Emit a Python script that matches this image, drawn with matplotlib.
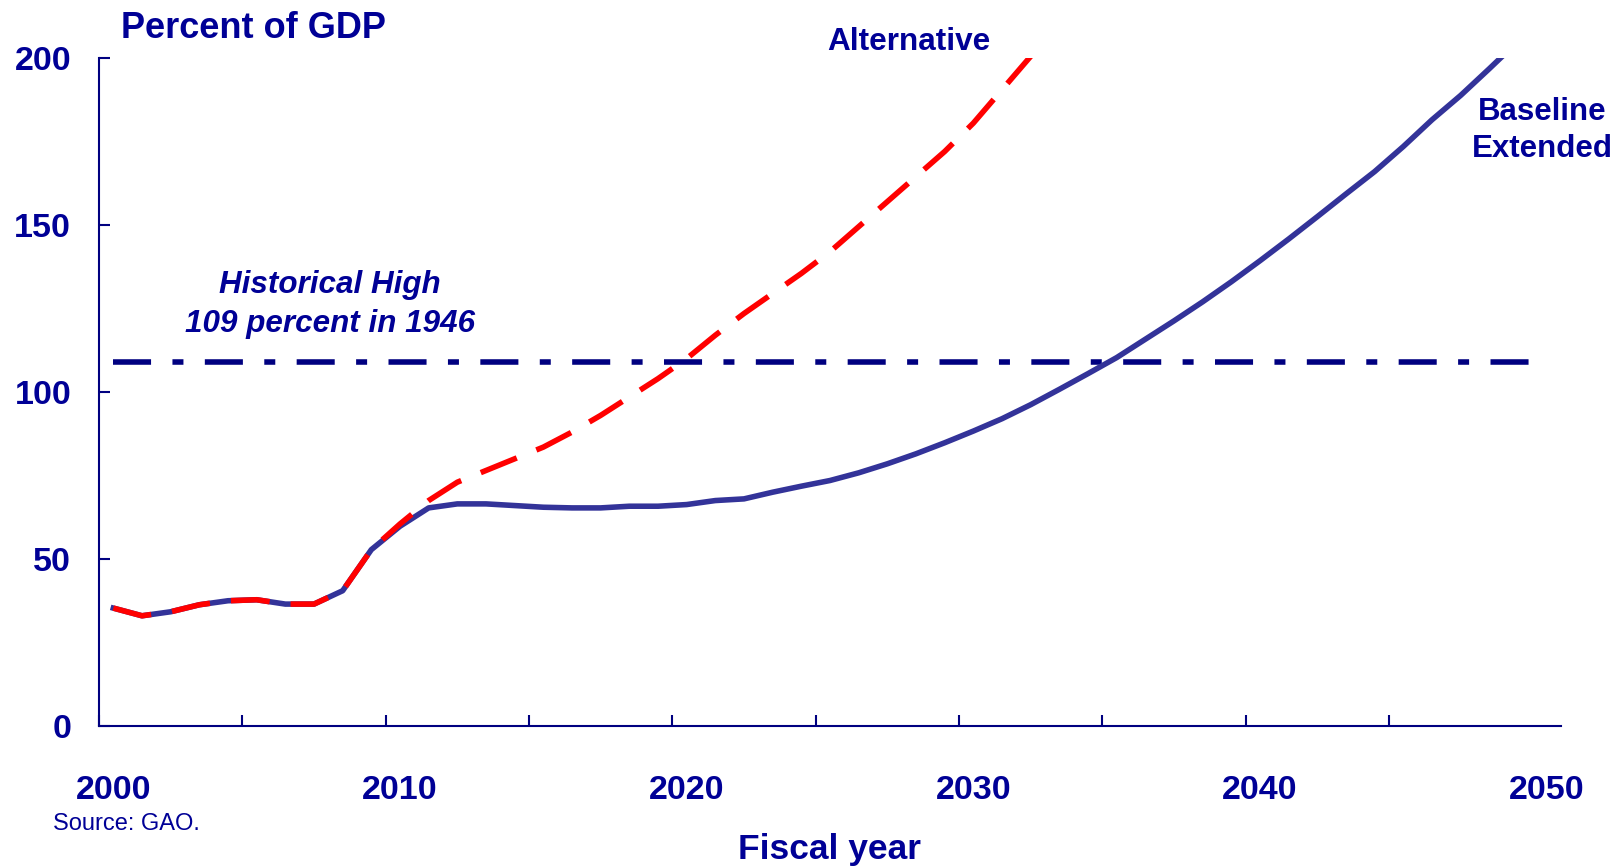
import matplotlib.pyplot as plt

plt.rcParams['font.family'] = ['Liberation Sans', 'DejaVu Sans']

# debt held by the public, percent of GDP
years = list(range(2000, 2051))
baseline = [35.3, 33.0, 34.2, 36.3, 37.5, 37.8, 36.5, 36.5, 40.5, 52.8,
            59.8, 65.3, 66.5, 66.5, 66.0, 65.5, 65.3, 65.3, 65.8, 65.8,
            66.3, 67.5, 68.0, 70.0, 71.8, 73.5, 75.8, 78.5, 81.5, 84.8,
            88.3, 92.0, 96.2, 100.8, 105.5, 110.3, 115.8, 121.3, 127.0, 133.0,
            139.3, 145.8, 152.5, 159.3, 166.0, 173.5, 181.5, 188.8, 196.8, 205.0,
            213.0]

alt_years = list(range(2000, 2034))
alternative = [35.3, 33.0, 34.2, 36.3, 37.5, 37.8, 36.5, 36.5, 40.5, 52.8,
               60.5, 67.5, 73.0, 76.5, 80.0, 83.5, 88.0, 93.0, 98.5, 104.0,
               110.0, 117.0, 123.5, 129.5, 135.5, 142.0, 149.5, 157.0, 164.5, 172.0,
               180.5, 190.5, 200.5, 211.0]

hist_high = 109
hist_span = [2000, 2050]

y_ticks = [0, 50, 100, 150, 200]
x_labels = [2000, 2010, 2020, 2030, 2040, 2050]

TEXT = '#000096'
NAVY = '#000080'
BLUE = '#333399'
RED = '#FF0000'

W, H = 1623, 868
fig = plt.figure(figsize=(W / 100, H / 100), dpi=100)
ax = fig.add_axes([99 / W, 1 - 726 / H, (1561 - 99) / W, (726 - 58) / H])

ax.plot(hist_span, [hist_high, hist_high], color=NAVY, lw=4.0,
        linestyle=(0, (6.85, 3.85, 1.98, 3.85)), zorder=2)
ax.plot(years, baseline, color=BLUE, lw=4.0, solid_joinstyle='round', zorder=3)
ax.plot(alt_years, alternative, color=RED, lw=4.0, linestyle=(0, (7.0, 3.8)), zorder=4)

ax.set_xlim(years[0] - 0.5, years[-1] + 0.5)
ax.set_ylim(0, 200)

# category boundaries every 5 years carry the tick marks, labels sit on the years
ax.set_xticks([years[0] - 0.5 + 5 * k for k in range(10)])
ax.set_xticks(x_labels, minor=True)
ax.set_xticklabels([str(v) for v in x_labels], minor=True, fontweight='bold')
ax.tick_params(axis='x', which='major', direction='in', length=8, width=1.5,
               color=NAVY, labelbottom=False)
ax.tick_params(axis='x', which='minor', length=0, pad=35, labelsize=24.5,
               labelcolor=TEXT)

ax.set_yticks(y_ticks)
ax.set_yticklabels([str(v) for v in y_ticks], fontweight='bold')
ax.tick_params(axis='y', direction='in', length=8, width=1.5, color=NAVY,
               pad=20, labelsize=24.5, labelcolor=TEXT)

for side in ['top', 'right']:
    ax.spines[side].set_visible(False)
for side in ['left', 'bottom']:
    ax.spines[side].set_color(NAVY)
    ax.spines[side].set_linewidth(1.5)

# annotations
ax.text(2007.56, 129.6, 'Historical High', ha='center', va='baseline',
        fontsize=22.6, fontweight='bold', style='italic', color=TEXT)
ax.text(2007.56, 118.0, '109 percent in 1946', ha='center', va='baseline',
        fontsize=22.6, fontweight='bold', style='italic', color=TEXT)
ax.text(2027.75, 202.4, 'Alternative', ha='center', va='baseline',
        fontsize=22.7, fontweight='bold', color=TEXT)
ax.text(2049.85, 181.4, 'Baseline', ha='center', va='baseline',
        fontsize=22.5, fontweight='bold', color=TEXT)
ax.text(2049.85, 170.4, 'Extended', ha='center', va='baseline',
        fontsize=22.5, fontweight='bold', color=TEXT)

fig.text(121 / W, 1 - 38 / H, 'Percent of GDP', ha='left', va='baseline',
         fontsize=26, fontweight='bold', color=TEXT)
fig.text(829.5 / W, 1 - 859 / H, 'Fiscal year', ha='center', va='baseline',
         fontsize=25.5, fontweight='bold', color=TEXT)
fig.text(53 / W, 1 - 830 / H, 'Source: GAO.', ha='left', va='baseline',
         fontsize=17, color=TEXT)

fig.savefig('out.png', dpi=100)
